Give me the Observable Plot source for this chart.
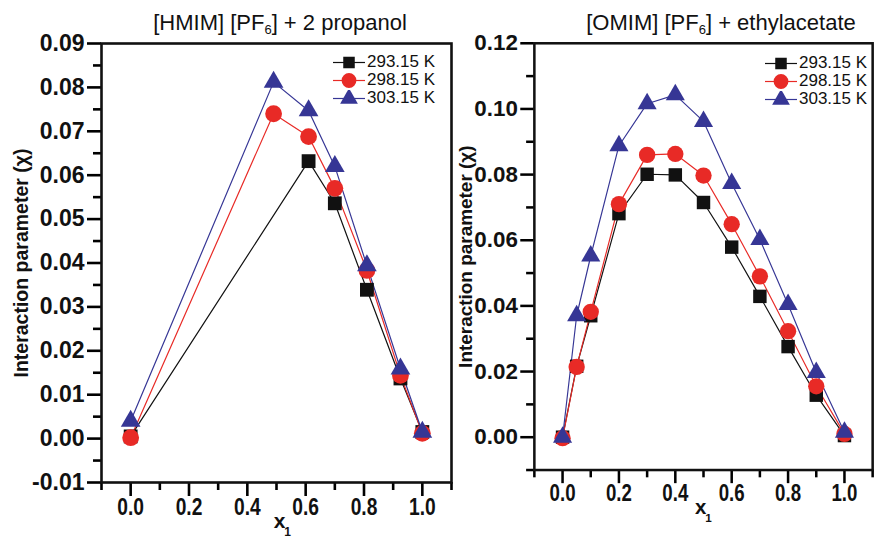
<!DOCTYPE html>
<html>
<head>
<meta charset="utf-8">
<script src="https://cdn.jsdelivr.net/npm/d3@7"></script>
<script src="https://cdn.jsdelivr.net/npm/@observablehq/plot@0.6"></script>
<style>
html, body { margin: 0; padding: 0; background: #fff; }
body { width: 878px; height: 540px; overflow: hidden; position: relative; font-family: "Liberation Sans", Arial, sans-serif; }
.panel { position: absolute; top: 36px; }
.title { position: absolute; top: 10px; font-size: 22px; white-space: nowrap; transform: translateX(-50%); color: #111; }
.title sub { font-size: 13px; vertical-align: -4px; }
.legrow { position: absolute; height: 17px; line-height: 16px; display: flex; align-items: center; font-size: 17px; color: #111; white-space: nowrap; }
.legrow svg { margin-right: 2px; }
</style>
</head>
<body>
<div class="title" style="left:280px">[HMIM] [PF<sub>6</sub>] + 2 propanol</div>
<div class="title" style="left:721px">[OMIM] [PF<sub>6</sub>] + ethylacetate</div>
<div id="p1" class="panel" style="left:0px"></div>
<div id="p2" class="panel" style="left:460px"></div>
<div id="leg1"></div>
<div id="leg2"></div>
<script>
// ---- data ----
const seriesNames = ["293.15 K", "298.15 K", "303.15 K"];
const seriesColors = ["#111111", "#e82a26", "#363695"];
const seriesSymbols = ["square", "circle", "triangle"];

// Left panel: [HMIM][PF6] + 2 propanol
const leftX = [0, 0.49, 0.61, 0.70, 0.81, 0.925, 1.0];
const left293 = [0.0005, null, 0.0632, 0.0536, 0.0339, 0.0137, 0.0015];
const left298 = [0.0002, 0.0740, 0.0688, 0.0570, 0.0383, 0.0144, 0.0012];
const left303 = [0.0040, 0.0812, 0.0747, 0.0620, 0.0394, 0.0159, 0.0015];

// Right panel: [OMIM][PF6] + ethylacetate
const rightX = [0, 0.05, 0.1, 0.2, 0.3, 0.4, 0.5, 0.6, 0.7, 0.8, 0.9, 1.0];
const right293 = [0.0000, 0.0216, 0.0370, 0.0681, 0.0801, 0.0799, 0.0715, 0.0579, 0.0429, 0.0276, 0.0128, 0.0005];
const right298 = [-0.0003, 0.0214, 0.0382, 0.0710, 0.0860, 0.0863, 0.0797, 0.0649, 0.0490, 0.0323, 0.0155, 0.0010];
const right303 = [0.0000, 0.0370, 0.0552, 0.0888, 0.1016, 0.1043, 0.0962, 0.0773, 0.0602, 0.0404, 0.0197, 0.0015];

const xMajor = [0, 0.2, 0.4, 0.6, 0.8, 1.0];
const xMinor = [-0.1, 0.1, 0.3, 0.5, 0.7, 0.9, 1.1];
const leftYMajor = d3.range(-1, 10).map(i => i / 100);
const leftYMinor = d3.range(-1, 9).map(i => i / 100 + 0.005);
const rightYMajor = d3.range(0, 7).map(i => i * 2 / 100);
const rightYMinor = d3.range(-1, 12, 2).map(i => i / 100);
const yLabel = "Interaction parameter (\u03c7)";

const boldFont = "'Liberation Sans', Arial, sans-serif";
const markerR = { square: 7.8, circle: 8.4, triangle: 7.3 };

function makePanel(cfg) {
  const rows = [];
  cfg.series.forEach((vals, k) => {
    vals.forEach((v, i) => { if (v != null) rows.push({ x: cfg.xs[i], y: v, k }); });
  });
  const marks = [];
  cfg.series.forEach((_, k) => {
    marks.push(Plot.line(rows.filter(r => r.k === k), { x: "x", y: "y", stroke: seriesColors[k], strokeWidth: 1.2 }));
  });
  cfg.series.forEach((_, k) => {
    const sym = seriesSymbols[k];
    marks.push(Plot.dot(rows.filter(r => r.k === k), { x: "x", y: "y", symbol: sym, r: markerR[sym], fill: seriesColors[k], stroke: "none" }));
  });
  marks.push(
    Plot.axisY(cfg.yMinor, { tickSize: 8, tickFormat: () => "", strokeWidth: 2.6, label: null }),
    Plot.axisY(cfg.yMajor, { tickSize: 14, tickPadding: 3, strokeWidth: 2.6, label: null,
      tickFormat: d => d.toFixed(2), fontSize: 23, fontWeight: "bold", fill: "#111" }),
    Plot.axisX(xMinor, { tickSize: 8, tickFormat: () => "", strokeWidth: 2.6, label: null }),
    Plot.axisX(xMajor, { tickSize: 14, tickPadding: 1, strokeWidth: 2.6, label: null,
      tickFormat: d => d.toFixed(1), fontSize: 24, fontWeight: "bold", fill: "#111" }),
    Plot.frame({ stroke: "#111", strokeWidth: 2.6 }),
    Plot.text([yLabel], { frameAnchor: "left", textAnchor: "middle", rotate: -90, dx: cfg.yLabelDx, fontSize: 19.5, fontWeight: "bold", fill: "#111" }),
    Plot.text(["x"], { frameAnchor: "bottom", textAnchor: "middle", dx: cfg.xLabelDx, dy: 45, fontSize: 21, fontWeight: "bold", fill: "#111" }),
    Plot.text(["1"], { frameAnchor: "bottom", textAnchor: "middle", dx: cfg.xLabelDx + 8, dy: 53, fontSize: 12, fontWeight: "bold", fill: "#111" })
  );
  const svg = Plot.plot({
    width: cfg.width,
    height: 504,
    marginLeft: cfg.marginLeft,
    marginRight: cfg.marginRight,
    marginTop: 7,
    marginBottom: 58,
    x: { domain: [-0.1, 1.1] },
    y: { domain: cfg.yDomain },
    style: { fontFamily: boldFont, overflow: "visible", background: "transparent" },
    marks
  });
  // condense the x tick labels horizontally like the reference's narrow face
  svg.querySelectorAll('g[aria-label="x-axis tick label"] text').forEach(t => {
    const tr = t.getAttribute("transform") || "";
    t.setAttribute("transform", tr + " scale(0.8,1)");
  });
  return svg;
}

document.getElementById("p1").append(makePanel({
  xs: leftX, series: [left293, left298, left303],
  yDomain: [-0.01, 0.09], yMajor: leftYMajor, yMinor: leftYMinor,
  width: 460, marginLeft: 101, marginRight: 9, yLabelDx: -80, xLabelDx: 3
}));
document.getElementById("p2").append(makePanel({
  xs: rightX, series: [right293, right298, right303],
  yDomain: [-0.01, 0.12], yMajor: rightYMajor, yMinor: rightYMinor,
  width: 430, marginLeft: 76, marginRight: 6, yLabelDx: -70, xLabelDx: -3
}));

// legends (inside plot area, top-right)
function legend(id, left, tops) {
  const host = document.getElementById(id);
  seriesNames.forEach((name, k) => {
    const row = document.createElement("div");
    row.className = "legrow";
    row.style.left = left + "px";
    row.style.top = (tops[k] - 8.5) + "px";
    const sym = seriesSymbols[k];
    const size = { square: 6.5, circle: 7.4, triangle: 6.6 }[sym];
    const symType = { square: d3.symbolSquare, circle: d3.symbolCircle, triangle: d3.symbolTriangle }[sym];
    const path = d3.symbol(symType, size * size * Math.PI)();
    row.innerHTML = `<svg width="32" height="17"><line x1="0" x2="32" y1="8.5" y2="8.5" stroke="${seriesColors[k]}" stroke-width="1.2"/>` +
      `<path transform="translate(16,8.5)" d="${path}" fill="${seriesColors[k]}"/></svg><span>${name}</span>`;
    host.append(row);
  });
}
legend("leg1", 333, [62, 80, 98]);
legend("leg2", 765, [63, 81, 99]);
</script>
</body>
</html>
